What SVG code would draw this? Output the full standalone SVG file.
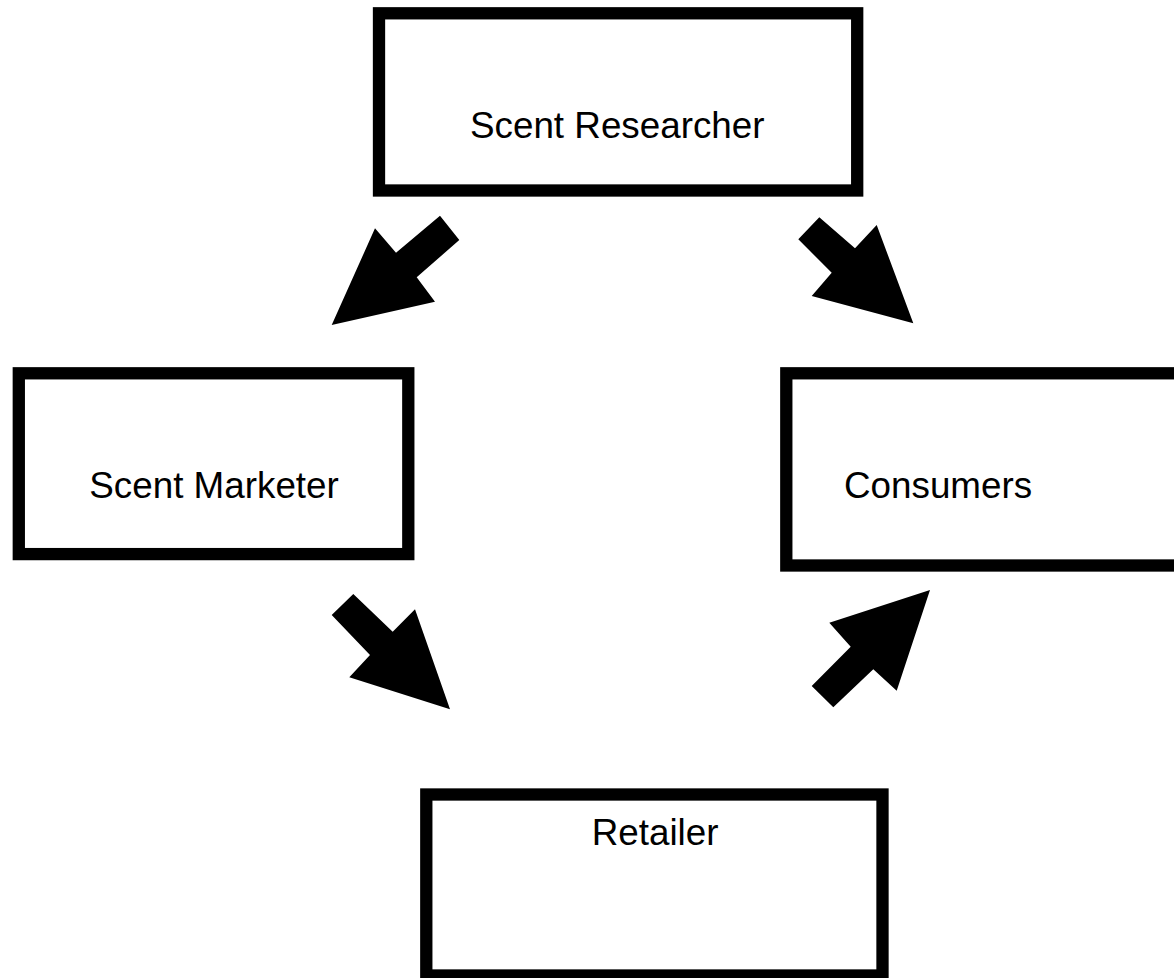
<svg xmlns="http://www.w3.org/2000/svg" width="1174" height="978" viewBox="0 0 1174 978">
<style>
.box{fill:#fff;stroke:#000;stroke-width:12.3}
.lbl{font-family:"Liberation Sans",Arial,sans-serif;font-size:36.8px;fill:#000}
.arr{fill:#000;stroke:none}
</style>
<rect width="1174" height="978" fill="#fff"/>
<g id="node-researcher">
<rect class="box" x="379" y="13.3" width="478.2" height="177.2"/>
<text class="lbl" x="470" y="138.3">Scent Researcher</text>
</g>
<g id="node-marketer">
<rect class="box" x="18.8" y="373.3" width="389.5" height="180.8"/>
<text class="lbl" x="89.3" y="498.3">Scent Marketer</text>
</g>
<g id="node-consumers">
<rect class="box" x="786.3" y="373.3" width="500" height="192.2"/>
<text class="lbl" x="844" y="498.3">Consumers</text>
</g>
<g id="node-retailer">
<rect class="box" x="426.3" y="794.5" width="456.2" height="181"/>
<text class="lbl" x="591.7" y="845">Retailer</text>
</g>
<g id="connectors">
<polygon class="arr" points="331.7,325 375,228.3 396,252.7 440,215.7 459.3,240 416.7,277.3 435,301.7"/>
<polygon class="arr" points="913.3,323.3 811.7,296 831.7,272.7 798.3,239.3 819.3,217.3 855,248.3 876.7,225"/>
<polygon class="arr" points="450,709.3 349.3,677.3 370,655 331.7,615 353.3,594 392.7,631.7 415,609.3"/>
<polygon class="arr" points="930,590 896.7,690.7 873.3,669.3 833.3,707.3 811.7,686 850.7,646.7 829.3,622.7"/>
</g>
</svg>
